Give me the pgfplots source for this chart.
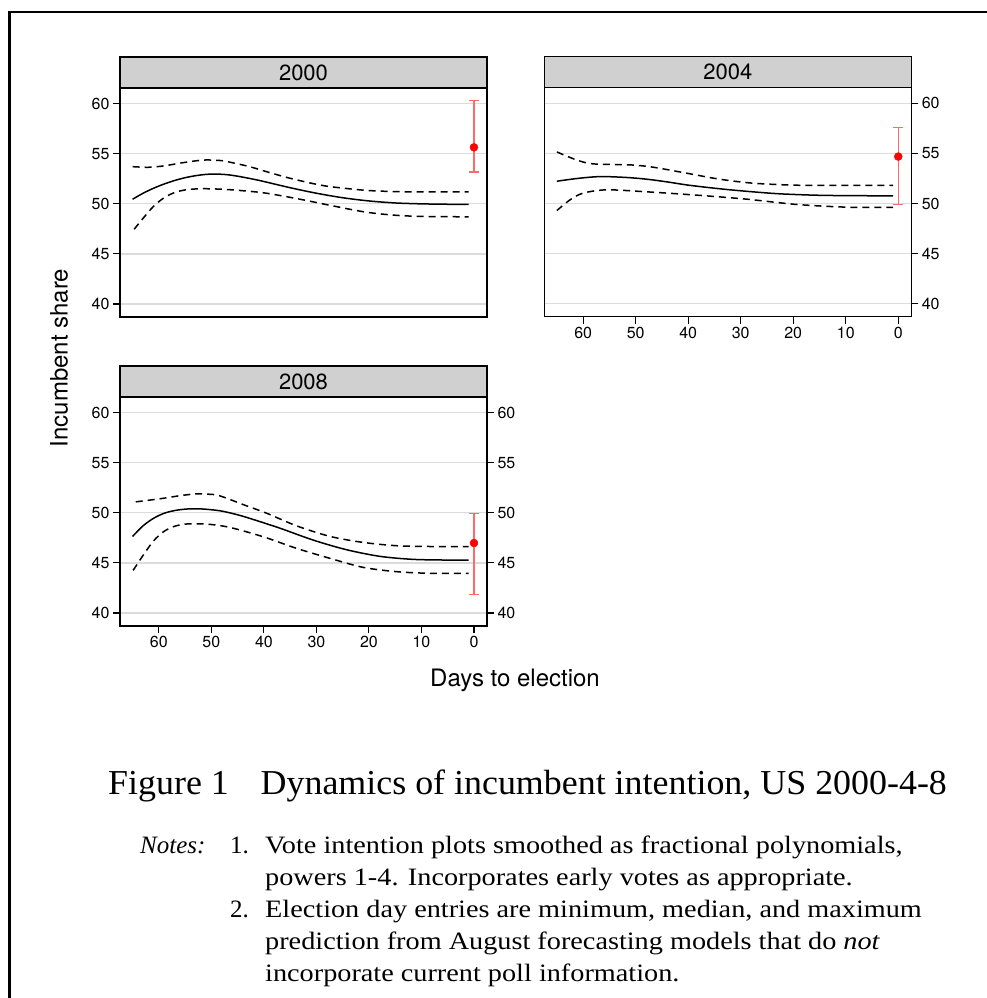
\documentclass[border=0pt]{standalone}
\usepackage{fontspec}
\setmainfont{TeX Gyre Heros}
\newfontfamily\capfont{Liberation Serif}
\usepackage{pgfplots}
\pgfplotsset{compat=1.18}

\definecolor{stripgray}{RGB}{208,208,208}
\definecolor{gridgray}{RGB}{220,220,220}
\definecolor{barred}{RGB}{255,105,105}

\pgfplotsset{
  panel/.style={
    scale only axis, width=367pt, height=229pt,
    x dir=reverse, xmin=-2.48, xmax=67.4, ymin=38.7, ymax=61.55,
    xtick={0,10,...,60}, ytick={40,45,...,60},
    ymajorgrids, grid style={draw=gridgray, line width=1.3pt},
    axis line style={line width=1.2pt},
    major tick style={line width=1.1pt, black},
    major tick length=7pt, tick align=outside,
    ticklabel style={font=\fontsize{16}{16}\selectfont},
    /pgf/number format/assume math mode=true,
    clip=false,
  },
  fit/.style={black, line width=1.5pt, smooth, no marks},
  band/.style={black, line width=1.5pt, smooth, no marks, dash pattern=on 7pt off 5pt},
  forecast/.style={red, only marks, mark=*, mark size=4pt,
    error bars/.cd, y dir=both, y explicit,
    error bar style={barred, line width=1.2pt},
    error mark options={rotate=90, barred, mark size=5pt, line width=1.2pt}},
}

% grey header strip with the year
\newcommand{\yearstrip}[1]{%
  \draw[fill=stripgray, line width=1.2pt] (rel axis cs:0,1) rectangle ([yshift=31pt]rel axis cs:1,1);
  \node[font=\fontsize{22}{22}\selectfont] at ([yshift=15.5pt]rel axis cs:0.5,1) {#1};}

\newcommand{\notefont}{\capfont\fontsize{25}{25}\selectfont}
\newcommand{\noteline}[1]{\scalebox{1.13}[1]{#1}}

\begin{document}
\begin{tikzpicture}
\useasboundingbox (0,0) rectangle (987pt,-998pt);
\draw[line width=2.6pt] (9.7pt,-998pt) -- (9.7pt,-12.2pt) -- (987pt,-12.2pt);

% ---- 2000 ----
\begin{axis}[panel, at={(120pt,-88pt)}, anchor=north west,
  xtick=\empty, ytick pos=left]
\addplot[fit] coordinates {(65,50.45) (63,51.05) (61,51.55) (59,51.97) (57,52.32) (55,52.6) (53,52.8) (51,52.93) (49,52.96) (47,52.9) (45,52.75) (42,52.45) (40,52.22) (35,51.6) (30,51.05) (25,50.6) (20,50.28) (15,50.08) (10,49.99) (5,49.95) (1,49.95)};
\addplot[band] coordinates {(65,53.7) (62,53.64) (59,53.78) (56,54.05) (53,54.28) (51,54.37) (48,54.3) (45.8,54.07) (42.7,53.7) (39.5,53.2) (35,52.54) (30,51.94) (26.8,51.67) (20.4,51.33) (14,51.2) (8,51.18) (1,51.18)};
\addplot[band] coordinates {(64.7,47.46) (63,48.55) (61,49.75) (59,50.6) (57,51.12) (55,51.38) (52,51.5) (48,51.45) (44,51.3) (39.5,51.05) (33.1,50.45) (26.8,49.78) (20.4,49.15) (14.1,48.82) (7.8,48.72) (1,48.7)};
\addplot[forecast] coordinates {(0,55.63) += (0,4.69) -= (0,2.46)};
\yearstrip{2000}
\end{axis}

% ---- 2004 ----
\begin{axis}[panel, at={(544.3pt,-87.7pt)}, anchor=north west,
  ytick pos=right, yticklabel pos=right, xtick pos=left]
\addplot[fit] coordinates {(65,52.22) (61,52.5) (56.8,52.68) (52,52.6) (47.9,52.42) (44,52.15) (40.3,51.85) (36,51.58) (32,51.36) (27,51.13) (22.5,50.96) (16.2,50.83) (10,50.78) (1,50.76)};
\addplot[band] coordinates {(65,55.14) (61.3,54.35) (58.1,53.95) (51.1,53.85) (46.7,53.62) (40.3,53.02) (34,52.42) (27.6,52.02) (19.35,51.82) (10,51.8) (1,51.8)};
\addplot[band] coordinates {(65,49.29) (62.5,50.36) (60,51.03) (55.5,51.36) (47.9,51.16) (38.4,50.83) (28.9,50.43) (19.35,49.9) (9.8,49.63) (1,49.6)};
\addplot[forecast] coordinates {(0,54.68) += (0,2.89) -= (0,4.78)};
\yearstrip{2004}
\end{axis}

% ---- 2008 ----
\begin{axis}[panel, at={(120pt,-397pt)}, anchor=north west,
  ytick pos=left, xtick pos=left]
\addplot[fit] coordinates {(65,47.64) (63,48.7) (61,49.45) (59,49.95) (57,50.22) (55,50.36) (53,50.4) (51,50.35) (48.4,50.2) (46,49.93) (43.3,49.54) (37,48.47) (30.6,47.27) (24.25,46.31) (17.9,45.65) (11.6,45.35) (5,45.28) (1,45.28)};
\addplot[band] coordinates {(64.4,51.09) (60,51.38) (56,51.7) (52.8,51.89) (50.5,51.85) (48.4,51.69) (43.3,50.69) (39.5,49.96) (33.8,48.7) (27.4,47.64) (21.1,47.04) (14.7,46.71) (8,46.63) (1,46.61)};
\addplot[band] coordinates {(64.9,44.25) (63,45.75) (61,47.2) (59,48.15) (57,48.65) (54.7,48.88) (50.9,48.87) (46.5,48.54) (40.1,47.6) (33.8,46.45) (27.4,45.45) (21.1,44.55) (14.7,44.12) (8.4,43.96) (1,43.96)};
\addplot[forecast] coordinates {(0,46.98) += (0,2.92) -= (0,5.16)};
\yearstrip{2008}
\end{axis}
% right-hand scale of the 2008 panel
\begin{axis}[panel, at={(120pt,-397pt)}, anchor=north west,
  ymajorgrids=false, xtick=\empty, ytick pos=right, yticklabel pos=right]
\end{axis}

\node[rotate=90, font=\fontsize{24}{24}\selectfont] at (59pt,-358pt) {Incumbent share};
\node[anchor=base, font=\fontsize{24}{24}\selectfont] at (515pt,-686.7pt) {Days to election};

\node[anchor=base west, inner sep=0pt, font=\capfont\fontsize{35}{35}\selectfont] at (108pt,-794pt)
  {\scalebox{1.026}[1]{Figure 1\hspace{31pt}Dynamics of incumbent intention, US 2000-4-8}};

\node[anchor=base west, inner sep=0pt, font=\notefont] at (140pt,-853pt) {\itshape Notes:};
\node[anchor=base west, inner sep=0pt, font=\notefont] at (230pt,-853pt) {1.};
\node[anchor=base west, inner sep=0pt, font=\notefont] at (265pt,-853pt) {\noteline{Vote intention plots smoothed as fractional polynomials,}};
\node[anchor=base west, inner sep=0pt, font=\notefont] at (265pt,-885pt) {\noteline{powers 1-4. Incorporates early votes as appropriate.}};
\node[anchor=base west, inner sep=0pt, font=\notefont] at (230pt,-917.5pt) {2.};
\node[anchor=base west, inner sep=0pt, font=\notefont] at (265pt,-917.5pt) {\noteline{Election day entries are minimum, median, and maximum}};
\node[anchor=base west, inner sep=0pt, font=\notefont] at (265pt,-949.5pt) {\noteline{prediction from August forecasting models that do \textit{not}}};
\node[anchor=base west, inner sep=0pt, font=\notefont] at (265pt,-981pt) {\noteline{incorporate current poll information.}};
\end{tikzpicture}
\end{document}
